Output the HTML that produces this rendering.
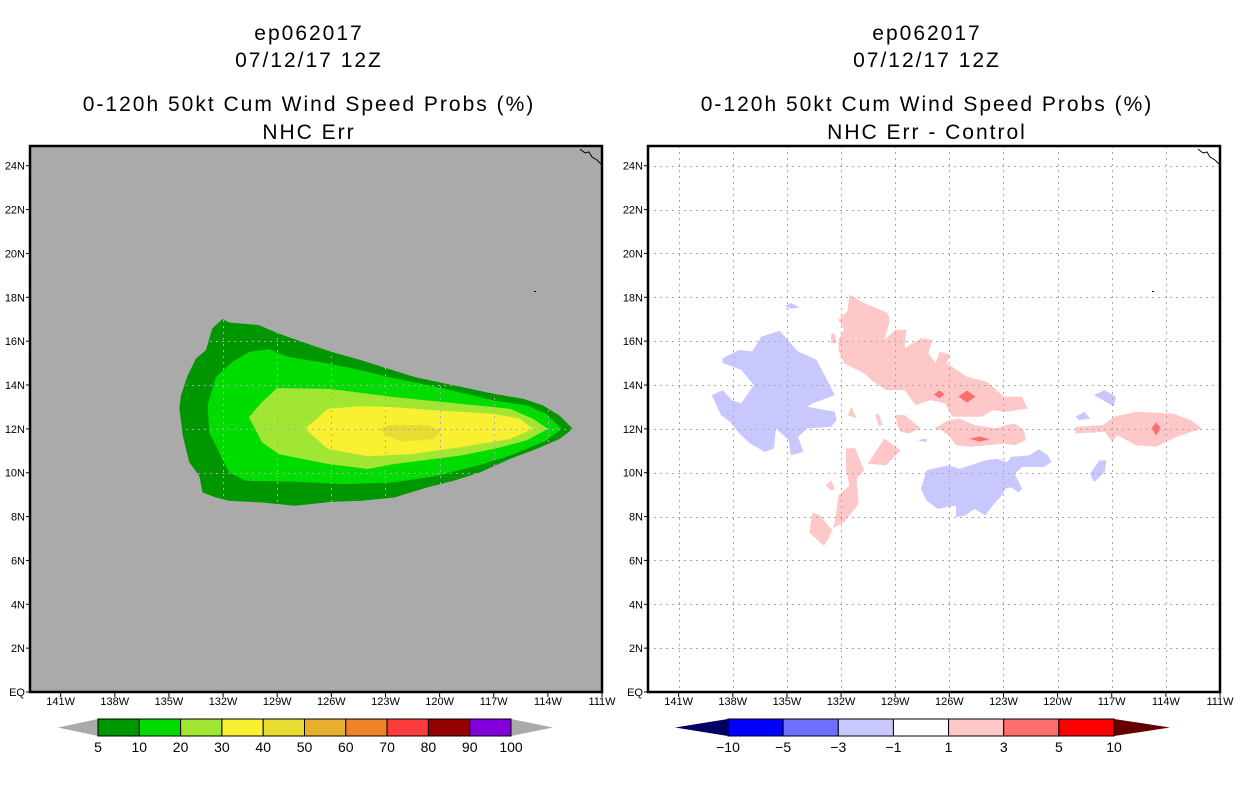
<!DOCTYPE html>
<html><head><meta charset="utf-8"><style>
body{margin:0;background:#fff;width:1236px;height:800px;overflow:hidden}
svg{display:block}
text{font-family:"Liberation Sans",sans-serif}
</style></head><body>
<svg id="fig" width="1236" height="800" xmlns="http://www.w3.org/2000/svg">
<g font-size="21" text-anchor="middle" fill="#000" letter-spacing="2">
<text x="309" y="40">ep062017</text>
<text x="309" y="67">07/12/17 12Z</text>
<text x="309" y="111">0-120h 50kt Cum Wind Speed Probs (%)</text>
<text x="309" y="139">NHC Err</text>
<text x="927" y="40">ep062017</text>
<text x="927" y="67">07/12/17 12Z</text>
<text x="927" y="111">0-120h 50kt Cum Wind Speed Probs (%)</text>
<text x="927" y="139">NHC Err - Control</text>
</g>
</svg>
<script>
// ---- data ----
const lonTicks = [-141,-138,-135,-132,-129,-126,-123,-120,-117,-114,-111];
const lonLabels = ["141W","138W","135W","132W","129W","126W","123W","120W","117W","114W","111W"];
const latTicks = [0,2,4,6,8,10,12,14,16,18,20,22,24];
const latLabels = ["EQ","2N","4N","6N","8N","10N","12N","14N","16N","18N","20N","22N","24N"];
const probLevels = [5,10,20,30,40];
const probColors = ["#009600","#00dc00","#a0e632","#faf032","#e6dc32"];
const prob5 = [[-134.42,12.92],[-134.33,13.53],[-133.96,14.44],[-133.5,15.21],[-132.95,15.59],[-132.59,16.58],[-132.04,17.01],[-131.67,16.85],[-130.02,16.73],[-128.92,16.35],[-127.64,15.97],[-125.99,15.51],[-124.34,15.13],[-122.88,14.75],[-121.41,14.37],[-120.13,14.14],[-118.48,13.86],[-117.02,13.6],[-115.37,13.37],[-114.27,13.07],[-113.36,12.61],[-112.62,12.0],[-113.36,11.54],[-114.64,11.08],[-116.1,10.63],[-117.75,10.02],[-119.22,9.63],[-120.68,9.33],[-122.51,8.87],[-124.34,8.72],[-125.99,8.67],[-128.01,8.49],[-129.84,8.64],[-131.67,8.72],[-132.4,8.87],[-133.14,9.1],[-133.32,9.86],[-133.87,10.47],[-134.23,11.69]];
const prob10 = [[-132.86,13.07],[-132.4,14.37],[-131.49,15.05],[-130.57,15.51],[-129.47,15.63],[-128.37,15.28],[-126.18,14.98],[-124.34,14.67],[-122.88,14.37],[-120.13,13.91],[-117.02,13.3],[-115.19,13.07],[-114.09,12.69],[-113.26,12.0],[-114.09,11.47],[-116.1,10.78],[-117.93,10.32],[-120.13,9.86],[-122.51,9.56],[-125.26,9.48],[-128.01,9.59],[-130.75,9.63],[-131.67,10.02],[-132.22,10.93],[-132.77,11.85]];
const prob20 = [[-130.57,12.53],[-129.84,13.22],[-129.01,13.86],[-126.18,13.83],[-122.51,13.45],[-118.85,13.15],[-116.1,12.92],[-114.82,12.46],[-114.0,12.0],[-115.19,11.47],[-117.02,11.08],[-118.85,10.78],[-122.51,10.4],[-123.98,10.17],[-126.18,10.4],[-128.92,10.85],[-129.84,11.39]];
const prob30 = [[-127.46,12.0],[-126.18,12.92],[-124.34,13.04],[-122.51,12.99],[-120.13,12.84],[-117.02,12.69],[-115.55,12.46],[-114.82,12.0],[-116.1,11.54],[-118.85,11.16],[-121.6,10.85],[-123.98,10.75],[-126.18,11.08]];
const prob40 = [[-123.34,12.0],[-122.7,12.18],[-120.68,12.18],[-119.95,11.92],[-120.31,11.54],[-122.15,11.42],[-122.88,11.69]];
const probPolys = [prob5,prob10,prob20,prob30,prob40];

const diffLevels = [-2,-2,-2,-2,-2,-2,-2, 2,2,2,2,2,2,2,2,2,2, 4,4,4,4];
const diffColors = {"-2":"#c8c8ff","2":"#ffc8c8","4":"#ff6e6e"};
const diffPolys = [
 [[-139.17,13.54],[-138.56,13.77],[-138.05,13.31],[-137.54,13.16],[-136.83,14.0],[-137.54,14.69],[-138.56,14.99],[-138.56,15.22],[-137.64,15.6],[-136.93,15.53],[-136.42,16.21],[-135.4,16.47],[-134.38,15.53],[-133.37,15.15],[-132.96,14.53],[-132.35,13.54],[-133.57,13.16],[-133.88,13.01],[-132.35,12.78],[-132.25,12.4],[-132.55,12.09],[-133.88,12.02],[-134.38,11.63],[-134.08,10.95],[-134.79,10.79],[-134.89,11.48],[-135.61,12.02],[-135.71,11.1],[-136.22,10.95],[-137.03,11.33],[-137.64,11.79],[-138.15,12.32],[-138.66,12.63]],
 [[-127.57,9.27],[-127.26,10.11],[-126.04,10.34],[-125.43,10.18],[-124.82,10.34],[-124.0,10.56],[-123.39,10.64],[-122.78,10.49],[-122.58,10.72],[-121.56,10.79],[-121.05,11.07],[-120.54,10.79],[-120.34,10.49],[-120.75,10.26],[-121.97,10.26],[-122.38,9.95],[-121.97,9.27],[-122.17,9.11],[-122.58,9.34],[-122.88,9.27],[-123.09,8.96],[-123.6,8.5],[-124.0,8.05],[-124.61,8.35],[-125.12,8.05],[-125.63,7.97],[-125.63,8.5],[-126.65,8.35],[-127.26,8.73]],
 [[-117.99,13.54],[-117.39,13.77],[-116.78,13.47],[-116.88,13.01],[-117.49,13.31]],
 [[-119.02,12.55],[-118.51,12.78],[-118.2,12.47],[-118.81,12.4]],
 [[-118.2,9.95],[-117.69,10.56],[-117.29,10.56],[-117.39,10.03],[-117.99,9.57]],
 [[-135.1,17.59],[-134.79,17.74],[-134.28,17.54],[-134.79,17.48]],
 [[-127.77,11.48],[-127.26,11.56],[-127.26,11.4]],
 [[-132.15,16.98],[-131.64,17.36],[-131.54,18.12],[-130.72,17.74],[-129.4,17.28],[-129.3,16.9],[-129.6,16.06],[-128.99,16.52],[-128.38,16.52],[-128.48,15.68],[-127.57,16.14],[-126.96,16.06],[-127.16,15.45],[-126.75,14.99],[-126.55,15.53],[-125.94,15.38],[-126.14,14.99],[-125.02,14.38],[-123.9,14.15],[-122.99,13.47],[-121.97,13.47],[-121.66,12.93],[-122.78,12.78],[-123.6,12.85],[-124.21,12.55],[-125.23,12.55],[-125.84,12.55],[-126.24,13.16],[-127.06,13.31],[-127.87,13.08],[-128.48,13.77],[-129.5,13.77],[-130.21,14.15],[-130.72,14.53],[-131.84,14.99],[-132.15,15.6],[-132.15,16.06],[-131.84,16.52]],
 [[-126.85,12.02],[-126.04,12.4],[-125.43,12.47],[-124.61,12.17],[-123.39,12.02],[-122.88,12.17],[-122.38,12.24],[-121.87,11.94],[-121.77,11.48],[-122.38,11.25],[-122.99,11.33],[-123.9,11.25],[-124.82,11.18],[-125.63,11.25],[-126.04,11.71],[-126.45,11.94]],
 [[-119.02,12.09],[-117.49,12.17],[-116.88,12.55],[-115.66,12.78],[-113.62,12.7],[-112.61,12.4],[-112.0,12.02],[-113.42,11.63],[-114.54,11.18],[-115.66,11.25],[-116.68,11.71],[-116.98,11.4],[-117.39,11.86],[-119.02,11.79]],
 [[-128.99,12.63],[-128.48,12.63],[-127.57,12.02],[-128.28,11.79],[-128.69,11.86],[-128.89,12.17]],
 [[-131.74,11.1],[-131.23,11.13],[-130.72,10.11],[-131.13,9.73],[-131.03,8.58],[-131.84,7.74],[-132.55,7.44],[-133.16,8.05],[-133.57,8.2],[-133.77,7.28],[-132.96,6.67],[-132.65,7.05],[-132.35,7.74],[-132.15,8.96],[-131.54,9.42],[-131.74,10.18]],
 [[-130.52,10.41],[-129.6,11.56],[-128.69,11.02],[-129.5,10.34]],
 [[-131.64,12.63],[-131.44,13.01],[-131.13,12.47]],
 [[-130.11,12.63],[-129.91,12.7],[-129.7,12.17],[-129.91,12.14]],
 [[-132.86,9.42],[-132.55,9.65],[-132.35,9.27],[-132.55,9.19]],
 [[-132.55,16.29],[-132.35,16.37],[-132.25,15.91],[-132.55,15.91]],
 [[-126.85,13.57],[-126.55,13.75],[-126.25,13.57],[-126.55,13.4]],
 [[-125.5,13.47],[-125.02,13.75],[-124.55,13.47],[-125.02,13.2]],
 [[-124.9,11.55],[-124.31,11.65],[-123.75,11.53],[-124.31,11.42]],
 [[-114.8,12.02],[-114.54,12.3],[-114.28,12.02],[-114.54,11.7]]
];
const probBarLabels = ["5","10","20","30","40","50","60","70","80","90","100"];
const probBarColors = ["#009600","#00dc00","#a0e632","#faf032","#e6dc32","#e6af2d","#f08228","#fa3c3c","#960000","#8200dc"];
const diffBarLabels = ["-10","-5","-3","-1","1","3","5","10"];
const diffBarColors = ["#0000ff","#6e6eff","#c8c8ff","#ffffff","#ffc8c8","#ff6e6e","#ff0000"];

// ---- drawing ----
const NS = "http://www.w3.org/2000/svg";
const svg = document.getElementById("fig");
const LON0=-142.7, LON1=-111, LAT0=0, LAT1=24.9, TOP=146, BOT=692, W=572;
function mk(tag, attrs, parent){const e=document.createElementNS(NS,tag);for(const k in attrs)e.setAttribute(k,attrs[k]);(parent||svg).appendChild(e);return e;}
function xs(x0){return lon=>x0+(lon-LON0)/(LON1-LON0)*W;}
function ys(lat){return BOT-(lat-LAT0)/(LAT1-LAT0)*(BOT-TOP);}
function pts(poly,sx){return poly.map(p=>sx(p[0]).toFixed(1)+","+ys(p[1]).toFixed(1)).join(" ");}

function panel(x0, bg, name, gridCol){
  const sx = xs(x0);
  const g = mk("g",{});
  
  
  const r = mk("rect",{x:x0,y:TOP,width:W,height:BOT-TOP,fill:bg},g);
  
  
  const marks = mk("g",{},g);
  
  
  const grid = mk("g",{stroke:gridCol,"stroke-width":1,"stroke-dasharray":"2,4"},g);
  
  
  lonTicks.forEach(l=>{const x=Math.round(sx(l))+0.5;if(x<x0+W-2)mk("line",{x1:x,x2:x,y1:TOP,y2:BOT},grid);});
  latTicks.forEach(l=>{const y=Math.round(ys(l))+0.5;if(l>0)mk("line",{x1:x0,x2:x0+W,y1:y,y2:y},grid);});
  const ax = mk("g",{},g);
  
  
  lonTicks.forEach((l,i)=>{const x=sx(l);
    mk("line",{x1:x,x2:x,y1:BOT,y2:BOT+5,stroke:"#000","stroke-width":1},ax);
    const t=mk("text",{x:x,y:BOT+13,"font-size":11,"text-anchor":"middle"},ax);t.textContent=lonLabels[i];
    
    });
  latTicks.forEach((l,i)=>{const y=ys(l);
    mk("line",{x1:x0-4,x2:x0,y1:y,y2:y,stroke:"#000","stroke-width":1},ax);
    const t=mk("text",{x:x0-5,y:y+4,"font-size":11,"text-anchor":"end"},ax);t.textContent=latLabels[i];
    
    });
  const fr = mk("rect",{x:x0,y:TOP,width:W,height:BOT-TOP,fill:"none",stroke:"#000","stroke-width":2.5},g);
  
  
  const c = mk("path",{d:`M${x0+W-22},${TOP+3} l5,4 l4,-1 l3,5 l5,3 l5,5`,fill:"none",stroke:"#000","stroke-width":1},g);
  
  
  const d = mk("rect",{x:x0+504,y:291,width:2,height:1,fill:"#000"},g);
  
  
  return {sx, marks};
}

const L = panel(30, "#aaaaaa", "left-map", "#aaaaaa");
probPolys.forEach((poly,i)=>{
  const p = mk("polygon",{points:pts(poly,L.sx),fill:probColors[i]},L.marks);
  
  
});
const R = panel(648, "#ffffff", "right-map", "#aaaaaa");
diffPolys.forEach((poly,i)=>{
  const p = mk("polygon",{points:pts(poly,R.sx),fill:diffColors[String(diffLevels[i])]},R.marks);
  
  
});

function colorbar(bx0,bx1,tipL,tipR,colors,labels,leftTip,rightTip,name){
  const g = mk("g",{});
  
  
  const y0=719,y1=736,ym=727.5,n=colors.length,bw=(bx1-bx0)/n;
  const a=mk("polygon",{points:`${tipL},${ym} ${bx0},${y0} ${bx0},${y1}`,fill:leftTip},g);
  
  
  const b=mk("polygon",{points:`${tipR},${ym} ${bx1},${y0} ${bx1},${y1}`,fill:rightTip},g);
  
  
  colors.forEach((c,i)=>{
    const r=mk("rect",{x:bx0+i*bw,y:y0,width:bw,height:y1-y0,fill:c,stroke:"#000","stroke-width":1},g);
    
    
  });
  labels.forEach((t,i)=>{
    const e=mk("text",{x:bx0+i*bw,y:752,"font-size":14,"text-anchor":"middle"},g);
    e.textContent=t.replace("-","\u2212");
    
    
  });
}
colorbar(98,511,58,553,probBarColors,probBarLabels,"#aaaaaa","#aaaaaa","prob-colorbar");
colorbar(728,1114,675,1170,diffBarColors,diffBarLabels,"#000064","#640000","diff-colorbar");
</script>
</body></html>
